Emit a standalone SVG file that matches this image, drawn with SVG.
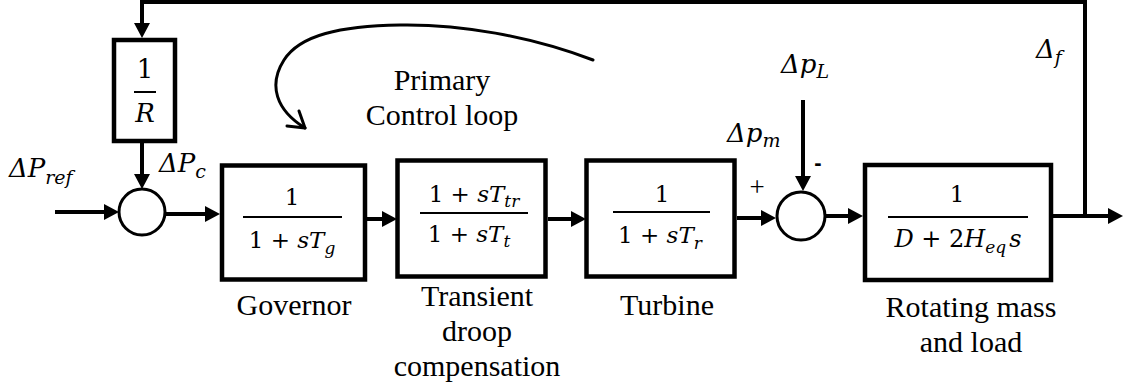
<svg xmlns="http://www.w3.org/2000/svg" width="1123" height="391" viewBox="0 0 1123 391">
<style>
.box{fill:#fff;stroke:#000;stroke-width:4.5}
.sum{fill:#fff;stroke:#000;stroke-width:3}
.wire{fill:none;stroke:#000;stroke-width:4;stroke-linejoin:miter}
.bar{stroke:#000;stroke-width:2}
.lbl{font-size:30px;fill:#000;text-anchor:middle}
.m{font-size:23px;fill:#000;text-anchor:middle}
.ml{font-size:26px;fill:#000}
.i{font-style:italic}
.sub{font-size:17px;font-style:italic}
.subl{font-size:19px;font-style:italic}
</style>
<defs>
<marker id="ah" markerUnits="userSpaceOnUse" markerWidth="15" markerHeight="16" viewBox="0 0 15 16" refX="5" refY="8" orient="auto">
<path d="M0,0 L15,8 L0,16 z" fill="#000"/>
</marker>
</defs>

<g id="connectors">
<path class="wire" d="M1085,216 V2 H142 V28" marker-end="url(#ah)"/>
<path class="wire" d="M142,143 V179" marker-end="url(#ah)"/>
<path class="wire" d="M55,212 H109" marker-end="url(#ah)"/>
<path class="wire" d="M165,214 H210" marker-end="url(#ah)"/>
<path class="wire" d="M366,219 H387" marker-end="url(#ah)"/>
<path class="wire" d="M548,219 H576" marker-end="url(#ah)"/>
<path class="wire" d="M737,218 H766" marker-end="url(#ah)"/>
<path class="wire" d="M803,100 V181" marker-end="url(#ah)"/>
<path class="wire" d="M826,216 H853" marker-end="url(#ah)"/>
<path class="wire" d="M1053,216 H1113" marker-end="url(#ah)"/>
<path fill="none" stroke="#000" stroke-width="3" stroke-linecap="round" d="M593,60 C530,36 460,24 400,25 C340,26 300,35 284,60 C268,85 276,110 305,128"/>
<path fill="none" stroke="#000" stroke-width="3" stroke-linecap="round" stroke-linejoin="round" d="M287,126 L305,128 L299,111"/>
</g>

<g id="feedback-gain" font-family="'DejaVu Serif', serif">
<rect class="box" x="114" y="40" width="61" height="101"/>
<text class="ml" x="145" y="78" text-anchor="middle">1</text>
<line class="bar" x1="134" y1="92" x2="156" y2="92"/>
<text class="ml i" x="145" y="122" text-anchor="middle">R</text>
</g>

<g id="sum1">
<circle class="sum" cx="142" cy="212" r="23"/>
</g>

<g id="governor" font-family="'DejaVu Serif', serif">
<rect class="box" x="222" y="165.5" width="143" height="114"/>
<text class="m" x="292" y="205">1</text>
<line class="bar" x1="243" y1="217" x2="342" y2="217"/>
<text class="m" x="292" y="248">1 + <tspan class="i">sT</tspan><tspan class="sub" dy="6">g</tspan></text>
<text class="lbl" x="294" y="315" font-family="'Liberation Serif', serif">Governor</text>
</g>

<g id="transient" font-family="'DejaVu Serif', serif">
<rect class="box" x="397.5" y="160.5" width="148" height="116"/>
<text class="m" x="474" y="202">1 + <tspan class="i">sT</tspan><tspan class="sub" dy="5">tr</tspan></text>
<line class="bar" x1="420" y1="213" x2="528" y2="213"/>
<text class="m" x="469" y="242">1 + <tspan class="i">sT</tspan><tspan class="sub" dy="5">t</tspan></text>
<text class="lbl" x="477" y="306" font-family="'Liberation Serif', serif">Transient</text>
<text class="lbl" x="477" y="341" font-family="'Liberation Serif', serif">droop</text>
<text class="lbl" x="477" y="376" font-family="'Liberation Serif', serif">compensation</text>
</g>

<g id="turbine" font-family="'DejaVu Serif', serif">
<rect class="box" x="586.5" y="160.5" width="148" height="116"/>
<text class="m" x="662" y="202">1</text>
<line class="bar" x1="613" y1="212" x2="710" y2="212"/>
<text class="m" x="660" y="243">1 + <tspan class="i">sT</tspan><tspan class="sub" dy="6">r</tspan></text>
<text class="lbl" x="667" y="315" font-family="'Liberation Serif', serif">Turbine</text>
</g>

<g id="sum2">
<circle class="sum" cx="801" cy="216" r="24"/>
<text x="757" y="196" font-family="'Liberation Serif', serif" font-size="27" text-anchor="middle">+</text>
<text x="818" y="170" font-family="'Liberation Sans', sans-serif" font-size="22" font-weight="bold" text-anchor="middle">-</text>
</g>

<g id="rotating-mass" font-family="'DejaVu Serif', serif">
<rect class="box" x="865" y="165" width="186" height="115"/>
<text class="m" x="957" y="202">1</text>
<line class="bar" x1="888" y1="217" x2="1028" y2="217"/>
<text class="m" x="958" y="247" style="font-size:24px"><tspan class="i">D</tspan> + 2<tspan class="i">H</tspan><tspan class="sub" dy="6">eq</tspan><tspan class="i" dx="3" dy="-6">s</tspan></text>
<text class="lbl" x="971" y="317" font-family="'Liberation Serif', serif">Rotating mass</text>
<text class="lbl" x="971" y="352" font-family="'Liberation Serif', serif">and load</text>
</g>

<g id="signal-labels" font-family="'DejaVu Serif', serif">
<text class="ml i" x="9" y="177">ΔP<tspan class="subl" dy="7">ref</tspan></text>
<text class="ml i" x="159" y="172">ΔP<tspan class="subl" dy="6">c</tspan></text>
<text class="ml i" x="781" y="73">Δp<tspan class="subl" dy="5">L</tspan></text>
<text class="ml i" x="727" y="142">Δp<tspan class="subl" dy="5">m</tspan></text>
<text class="ml i" x="1036" y="58">Δ<tspan class="subl" dy="6">f</tspan></text>
<text class="lbl" x="442" y="90" font-family="'Liberation Serif', serif">Primary</text>
<text class="lbl" x="442" y="125" font-family="'Liberation Serif', serif">Control loop</text>
</g>
</svg>
